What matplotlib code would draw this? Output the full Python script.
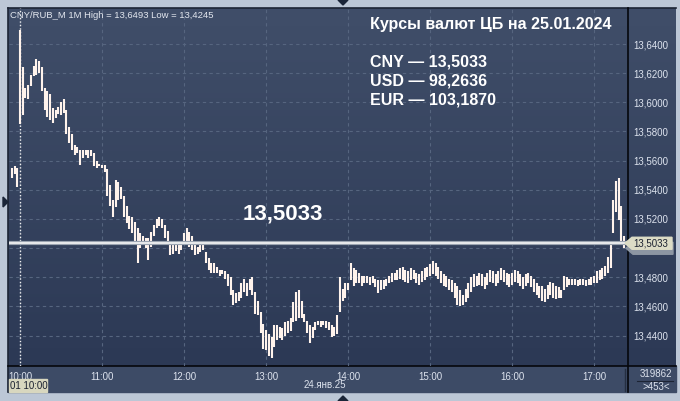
import numpy as np
import matplotlib.pyplot as plt
from matplotlib.patches import Rectangle, Polygon
from matplotlib.colors import LinearSegmentedColormap
from matplotlib.transforms import blended_transform_factory

plt.rcParams['font.family'] = ['Liberation Sans', 'DejaVu Sans']

# 2-minute bars, minutes relative to 10:00 (first bar 09:54, last 17:22)
bar_start, bar_step = -6, 2
hi = [
    13.555, 13.556, 13.555, 13.6493, 13.624, 13.610, 13.612, 13.619, 13.625, 13.630,
    13.628, 13.624, 13.610, 13.608, 13.606, 13.596, 13.595, 13.597, 13.600, 13.602,
    13.595, 13.583, 13.578, 13.571, 13.569, 13.567, 13.567, 13.567, 13.567, 13.567,
    13.565, 13.560, 13.558, 13.557, 13.557, 13.554, 13.543, 13.533, 13.547, 13.545,
    13.542, 13.536, 13.529, 13.522, 13.521, 13.518, 13.514, 13.510, 13.508, 13.507,
    13.507, 13.511, 13.516, 13.520, 13.521, 13.520, 13.516, 13.512, 13.505, 13.503,
    13.502, 13.503, 13.505, 13.510, 13.514, 13.511, 13.508, 13.502, 13.501, 13.502,
    13.504, 13.497, 13.493, 13.490, 13.490, 13.487, 13.485, 13.485, 13.484, 13.482,
    13.480, 13.471, 13.469, 13.470, 13.476, 13.479, 13.476, 13.479, 13.480, 13.470,
    13.464, 13.456, 13.448, 13.444, 13.441, 13.439, 13.447, 13.447, 13.446, 13.445,
    13.449, 13.450, 13.452, 13.463, 13.470, 13.471, 13.464, 13.455, 13.450, 13.447,
    13.446, 13.449, 13.450, 13.450, 13.450, 13.450, 13.449, 13.447, 13.446, 13.454,
    13.480, 13.472, 13.476, 13.476, 13.490, 13.486, 13.485, 13.483, 13.481, 13.481,
    13.481, 13.480, 13.481, 13.479, 13.478, 13.478, 13.478, 13.479, 13.481, 13.483,
    13.483, 13.485, 13.486, 13.487, 13.485, 13.484, 13.486, 13.485, 13.483, 13.482,
    13.484, 13.486, 13.487, 13.489, 13.491, 13.490, 13.487, 13.484, 13.482, 13.481,
    13.479, 13.478, 13.476, 13.474, 13.471, 13.468, 13.472, 13.476, 13.480, 13.482,
    13.481, 13.483, 13.482, 13.480, 13.483, 13.485, 13.484, 13.482, 13.484, 13.486,
    13.485, 13.483, 13.482, 13.483, 13.485, 13.484, 13.482, 13.480, 13.482, 13.483,
    13.481, 13.479, 13.476, 13.474, 13.474, 13.472, 13.475, 13.477, 13.476, 13.474,
    13.473, 13.471, 13.481, 13.480, 13.479, 13.479, 13.479, 13.478, 13.479, 13.479,
    13.478, 13.479, 13.480, 13.481, 13.484, 13.485, 13.486, 13.488, 13.494, 13.505,
    13.533, 13.546, 13.548, 13.529, 13.508,
]
lo = [
    13.548, 13.551, 13.542, 13.585, 13.591, 13.603, 13.602, 13.611, 13.618, 13.619,
    13.620, 13.608, 13.595, 13.590, 13.588, 13.586, 13.589, 13.592, 13.591, 13.593,
    13.578, 13.572, 13.567, 13.564, 13.565, 13.557, 13.562, 13.564, 13.562, 13.563,
    13.556, 13.555, 13.556, 13.555, 13.552, 13.536, 13.529, 13.521, 13.528, 13.533,
    13.534, 13.521, 13.517, 13.513, 13.510, 13.504, 13.490, 13.500, 13.502, 13.500,
    13.492, 13.501, 13.508, 13.514, 13.515, 13.514, 13.507, 13.505, 13.495, 13.496,
    13.498, 13.496, 13.499, 13.504, 13.504, 13.501, 13.499, 13.495, 13.496, 13.497,
    13.499, 13.490, 13.485, 13.483, 13.483, 13.483, 13.481, 13.482, 13.479, 13.474,
    13.468, 13.461, 13.462, 13.464, 13.466, 13.470, 13.467, 13.471, 13.468, 13.455,
    13.454, 13.442, 13.431, 13.430, 13.426, 13.4245, 13.432, 13.437, 13.438, 13.437,
    13.440, 13.442, 13.443, 13.449, 13.450, 13.452, 13.452, 13.449, 13.442, 13.435,
    13.438, 13.444, 13.447, 13.446, 13.447, 13.445, 13.444, 13.439, 13.440, 13.441,
    13.456, 13.464, 13.466, 13.471, 13.478, 13.474, 13.476, 13.476, 13.474, 13.476,
    13.476, 13.475, 13.476, 13.473, 13.469, 13.471, 13.472, 13.474, 13.476, 13.477,
    13.478, 13.478, 13.479, 13.478, 13.477, 13.476, 13.478, 13.479, 13.476, 13.475,
    13.477, 13.478, 13.480, 13.481, 13.482, 13.481, 13.479, 13.476, 13.474, 13.473,
    13.471, 13.470, 13.466, 13.461, 13.460, 13.461, 13.463, 13.466, 13.470, 13.473,
    13.474, 13.475, 13.474, 13.472, 13.475, 13.477, 13.476, 13.474, 13.476, 13.478,
    13.477, 13.475, 13.473, 13.475, 13.477, 13.476, 13.474, 13.472, 13.474, 13.476,
    13.473, 13.470, 13.468, 13.466, 13.464, 13.463, 13.465, 13.468, 13.466, 13.465,
    13.466, 13.466, 13.471, 13.473, 13.475, 13.475, 13.475, 13.474, 13.475, 13.475,
    13.474, 13.475, 13.475, 13.476, 13.476, 13.478, 13.479, 13.481, 13.483, 13.486,
    13.510, 13.525, 13.519, 13.505, 13.500,
]
minutes = bar_start + bar_step * np.arange(len(hi))

price_ticks = [13.44, 13.46, 13.48, 13.50, 13.52, 13.54, 13.56, 13.58, 13.60, 13.62, 13.64]
time_ticks = [0, 60, 120, 180, 240, 300, 360, 420]
time_labels = ["10:00", "11:00", "12:00", "13:00", "14:00", "15:00", "16:00", "17:00"]
last_price = 13.5033
cb_rates = [("CNY", "13,5033"), ("USD", "98,2636"), ("EUR", "103,1870")]

W, H = 680, 401
fig = plt.figure(figsize=(W / 100, H / 100), dpi=100)
fig.patch.set_facecolor('#bcc7d6')

def rect(x0, y0, x1, y1):
    return [x0 / W, 1 - y1 / H, (x1 - x0) / W, (y1 - y0) / H]

# background panels (pixel coordinates)
bg = fig.add_axes([0, 0, 1, 1], zorder=0)
bg.axis('off')
cmap = LinearSegmentedColormap.from_list('bg', ['#404e69', '#2c3955'])
bg.imshow(np.linspace(0, 1, 256)[:, None], extent=[8, 676, 366, 8], cmap=cmap, aspect='auto')
bg.add_patch(Rectangle((8, 366), 668, 26, color='#3d4b66'))
bg.plot([8, 8], [8, 392], color='#1c2434', lw=1.2)
bg.plot([8, 676], [8, 8], color='#1c2434', lw=1.2)
bg.plot([628, 628], [8, 392], color='#05070c', lw=1.2)
bg.plot([8, 676], [366, 366], color='#05070c', lw=1.2)
bg.plot([625, 625], [369, 391], color='#252f42', lw=1)
bg.set_xlim(0, W)
bg.set_ylim(H, 0)

# chart
ax = fig.add_axes(rect(9, 8, 628, 366), zorder=1)
ax.set_facecolor('none')
ax.set_xlim(-8.05, 444.8)
ax.set_ylim(13.4191, 13.6647)
for s in ax.spines.values():
    s.set_visible(False)

for t in time_ticks:
    ax.axvline(t, color='#56657f', lw=0.8, ls=(0, (3, 3)), zorder=1)
for p in price_ticks:
    ax.axhline(p, color='#56657f', lw=0.8, ls=(0, (3, 3)), zorder=1)
ax.axvline(0, color='#f0f0f0', lw=1, ls=(0, (1, 1.5)), zorder=2)

ax.vlines(minutes, lo, hi, color='#fff3ec', lw=1.5, zorder=3)

ax.axhline(last_price, color='#9aa3b0', lw=3, zorder=4)
ax.axhline(last_price, color='#f6f6f6', lw=1.2, zorder=5)

# the 13,5000 label sits under the last-price tag, so it is left blank
ax.yaxis.tick_right()
ax.set_yticks(price_ticks)
ax.set_yticklabels(["" if abs(p - 13.50) < 1e-9 else f"{p:.4f}".replace('.', ',')
                    for p in price_ticks])
ax.tick_params(axis='y', length=0, pad=4, labelsize=7, labelcolor='#dde3ee')
ax.set_xticks(time_ticks)
ax.set_xticklabels(time_labels)
ax.tick_params(axis='x', length=0, pad=4.5, labelsize=7, labelcolor='#dde3ee')

# last price tag on the right axis
tr = blended_transform_factory(ax.transAxes, ax.transData)
px = 1 / 619
py = (13.6647 - 13.4191) / 358
def tag(dx, dy, color):
    pts = [(1 + (dx - 3) * px, last_price - dy * py),
           (1 + (dx + 4) * px, last_price + (6 - dy) * py),
           (1 + (dx + 44) * px, last_price + (6 - dy) * py),
           (1 + (dx + 44) * px, last_price - (6 + dy) * py),
           (1 + (dx + 4) * px, last_price - (6 + dy) * py)]
    ax.add_patch(Polygon(pts, closed=True, color=color, transform=tr, clip_on=False, zorder=6))
tag(1, 5, '#8d96a3')
tag(0, 0, '#dcdcc6')
ax.text(1 + 5 * px, last_price, "13,5033", transform=tr, fontsize=7, color='#1b2130',
        va='center', ha='left', zorder=7)

# overlay texts and markers
ov = fig.add_axes([0, 0, 1, 1], zorder=3)
ov.axis('off')
ov.set_xlim(0, W)
ov.set_ylim(H, 0)
ov.text(10, 15, "CNY/RUB_M 1M High = 13,6493 Low = 13,4245", fontsize=6.8, color='#e3e7ef', va='center')
ov.text(370, 25, "Курсы валют ЦБ на 25.01.2024", fontsize=11.5, fontweight='bold', color='white', va='center')
for i, (cur, val) in enumerate(cb_rates):
    ov.text(370, 62 + 19 * i, f"{cur} — {val}", fontsize=11.5, fontweight='bold', color='white', va='center')
ov.text(243, 214, "13,5033", fontsize=16, fontweight='bold', color='white', va='center')

ov.text(325, 385.5, "24.янв.25", fontsize=7, color='#dde3ee', va='center', ha='center')
ov.add_patch(Rectangle((9, 379), 38, 13, color='#d8d7bf'))
ov.text(10, 386, "01 10:00", fontsize=7, color='#1b2130', va='center')
ov.text(656, 374, "319862", fontsize=7, color='#dde3ee', va='center', ha='center')
ov.plot([637, 673], [380.5, 380.5], color='#1c2434', lw=0.8)
ov.text(656, 386.5, ">453<", fontsize=7, color='#dde3ee', va='center', ha='center')

ov.add_patch(Polygon([(3, 197), (3, 207), (8, 202)], color='#1a2538'))
ov.add_patch(Polygon([(338, 0), (348, 0), (343, 5)], color='#1a2538'))
ov.add_patch(Polygon([(338, 401), (348, 401), (343, 396)], color='#1a2538'))

fig.savefig('out.png', dpi=100, facecolor=fig.get_facecolor())
